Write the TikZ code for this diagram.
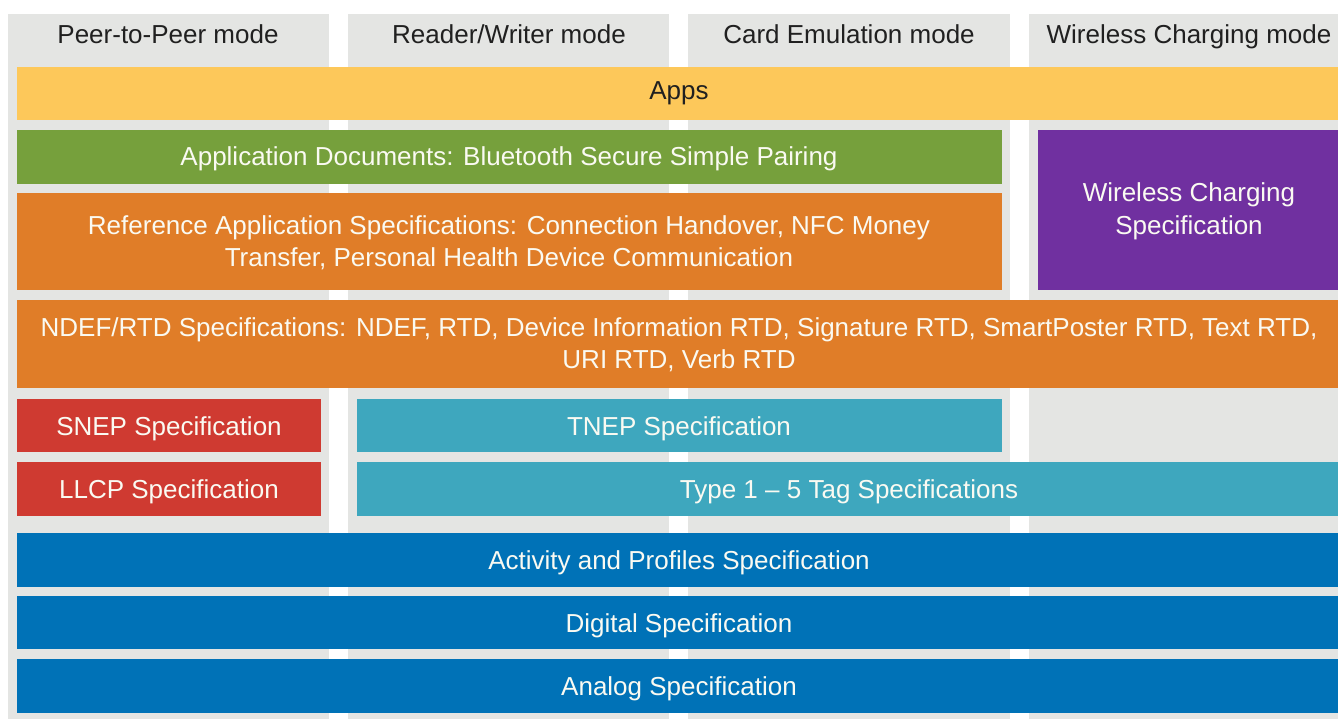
\documentclass[tikz,border=0pt]{standalone}
\usepackage{fontspec}
\setmainfont{Liberation Sans}
\definecolor{colgrey}{HTML}{E4E5E3}
\definecolor{appsyellow}{HTML}{FDC85A}
\definecolor{docgreen}{HTML}{76A03C}
\definecolor{reforange}{HTML}{E07D28}
\definecolor{wcpurple}{HTML}{7030A0}
\definecolor{llred}{HTML}{CF3A31}
\definecolor{tagteal}{HTML}{3EA7BE}
\definecolor{specblue}{HTML}{0072B7}
\definecolor{headtext}{HTML}{202020}
\definecolor{boxtext}{HTML}{FAFAF2}
\tikzset{
  colbg/.style={fill=colgrey, draw=none},
  layer/.style={draw=none, inner sep=0pt, outer sep=0pt, anchor=north west},
  lbl/.style={text=boxtext, font=\fontsize{26}{32}\selectfont, inner sep=0pt, anchor=base},
  headtxt/.style={text=headtext, font=\fontsize{26}{32}\selectfont, inner sep=0pt, anchor=base},
}
\begin{document}
\begin{tikzpicture}[x=1pt, y=-1pt]
\useasboundingbox (0,0) rectangle (1338,719);
\fill[white] (0,0) rectangle (1338,719);
% column backgrounds
\fill[colbg] (8,14) rectangle (329,719);
\fill[colbg] (348,14) rectangle (669,719);
\fill[colbg] (688,14) rectangle (1010,719);
\fill[colbg] (1029,14) rectangle (1338,719);
% headers
\node[headtxt] (h1) at (168,44) {Peer-to-Peer mode};
\node[headtxt] (h2) at (509,44) {Reader/Writer mode};
\node[headtxt] (h3) at (849,44) {Card Emulation mode};
\node[headtxt] (h4) at (1189,44) {Wireless Charging mode};
% layers
\node[layer, fill=appsyellow, minimum width=1321pt, minimum height=53pt] (apps) at (17,67) {};
\node[headtxt] (appst) at (679,99.5) {Apps};
\node[layer, fill=docgreen, minimum width=985pt, minimum height=54pt] (docs) at (17,130) {};
\node[lbl] (docst) at (509,165.5) {Application Documents: Bluetooth Secure Simple Pairing};
\node[layer, fill=reforange, minimum width=985pt, minimum height=97pt] (ref) at (17,193) {};
\node[lbl] (refa) at (509,234.5) {Reference Application Specifications: Connection Handover, NFC Money};
\node[lbl] (refb) at (509,266.5) {Transfer, Personal Health Device Communication};
\node[layer, fill=wcpurple, minimum width=300pt, minimum height=160pt] (wc) at (1038,130) {};
\node[lbl] (wca) at (1189,201.5) {Wireless Charging};
\node[lbl] (wcb) at (1189,235) {Specification};
\node[layer, fill=reforange, minimum width=1321pt, minimum height=88pt] (ndef) at (17,300) {};
\node[lbl] (ndefa) at (679,336.7) {NDEF/RTD Specifications: NDEF, RTD, Device Information RTD, Signature RTD, SmartPoster RTD, Text RTD,};
\node[lbl] (ndefb) at (679,368.7) {URI RTD, Verb RTD};
\node[layer, fill=llred, minimum width=304pt, minimum height=53pt] (snep) at (17,399) {};
\node[lbl] (snept) at (169,435) {SNEP Specification};
\node[layer, fill=llred, minimum width=304pt, minimum height=54pt] (llcp) at (17,462) {};
\node[lbl] (llcpt) at (169,498.3) {LLCP Specification};
\node[layer, fill=tagteal, minimum width=645pt, minimum height=53pt] (tnep) at (357,399) {};
\node[lbl] (tnept) at (679,435) {TNEP Specification};
\node[layer, fill=tagteal, minimum width=981pt, minimum height=54pt] (tag) at (357,462) {};
\node[lbl] (tagt) at (849,498.3) {Type 1 -- 5 Tag Specifications};
\node[layer, fill=specblue, minimum width=1321pt, minimum height=54pt] (act) at (17,533) {};
\node[lbl] (actt) at (679,569.3) {Activity and Profiles Specification};
\node[layer, fill=specblue, minimum width=1321pt, minimum height=53pt] (dig) at (17,596) {};
\node[lbl] (digt) at (679,632.3) {Digital Specification};
\node[layer, fill=specblue, minimum width=1321pt, minimum height=54pt] (ana) at (17,659) {};
\node[lbl] (anat) at (679,695) {Analog Specification};
\end{tikzpicture}
\end{document}
